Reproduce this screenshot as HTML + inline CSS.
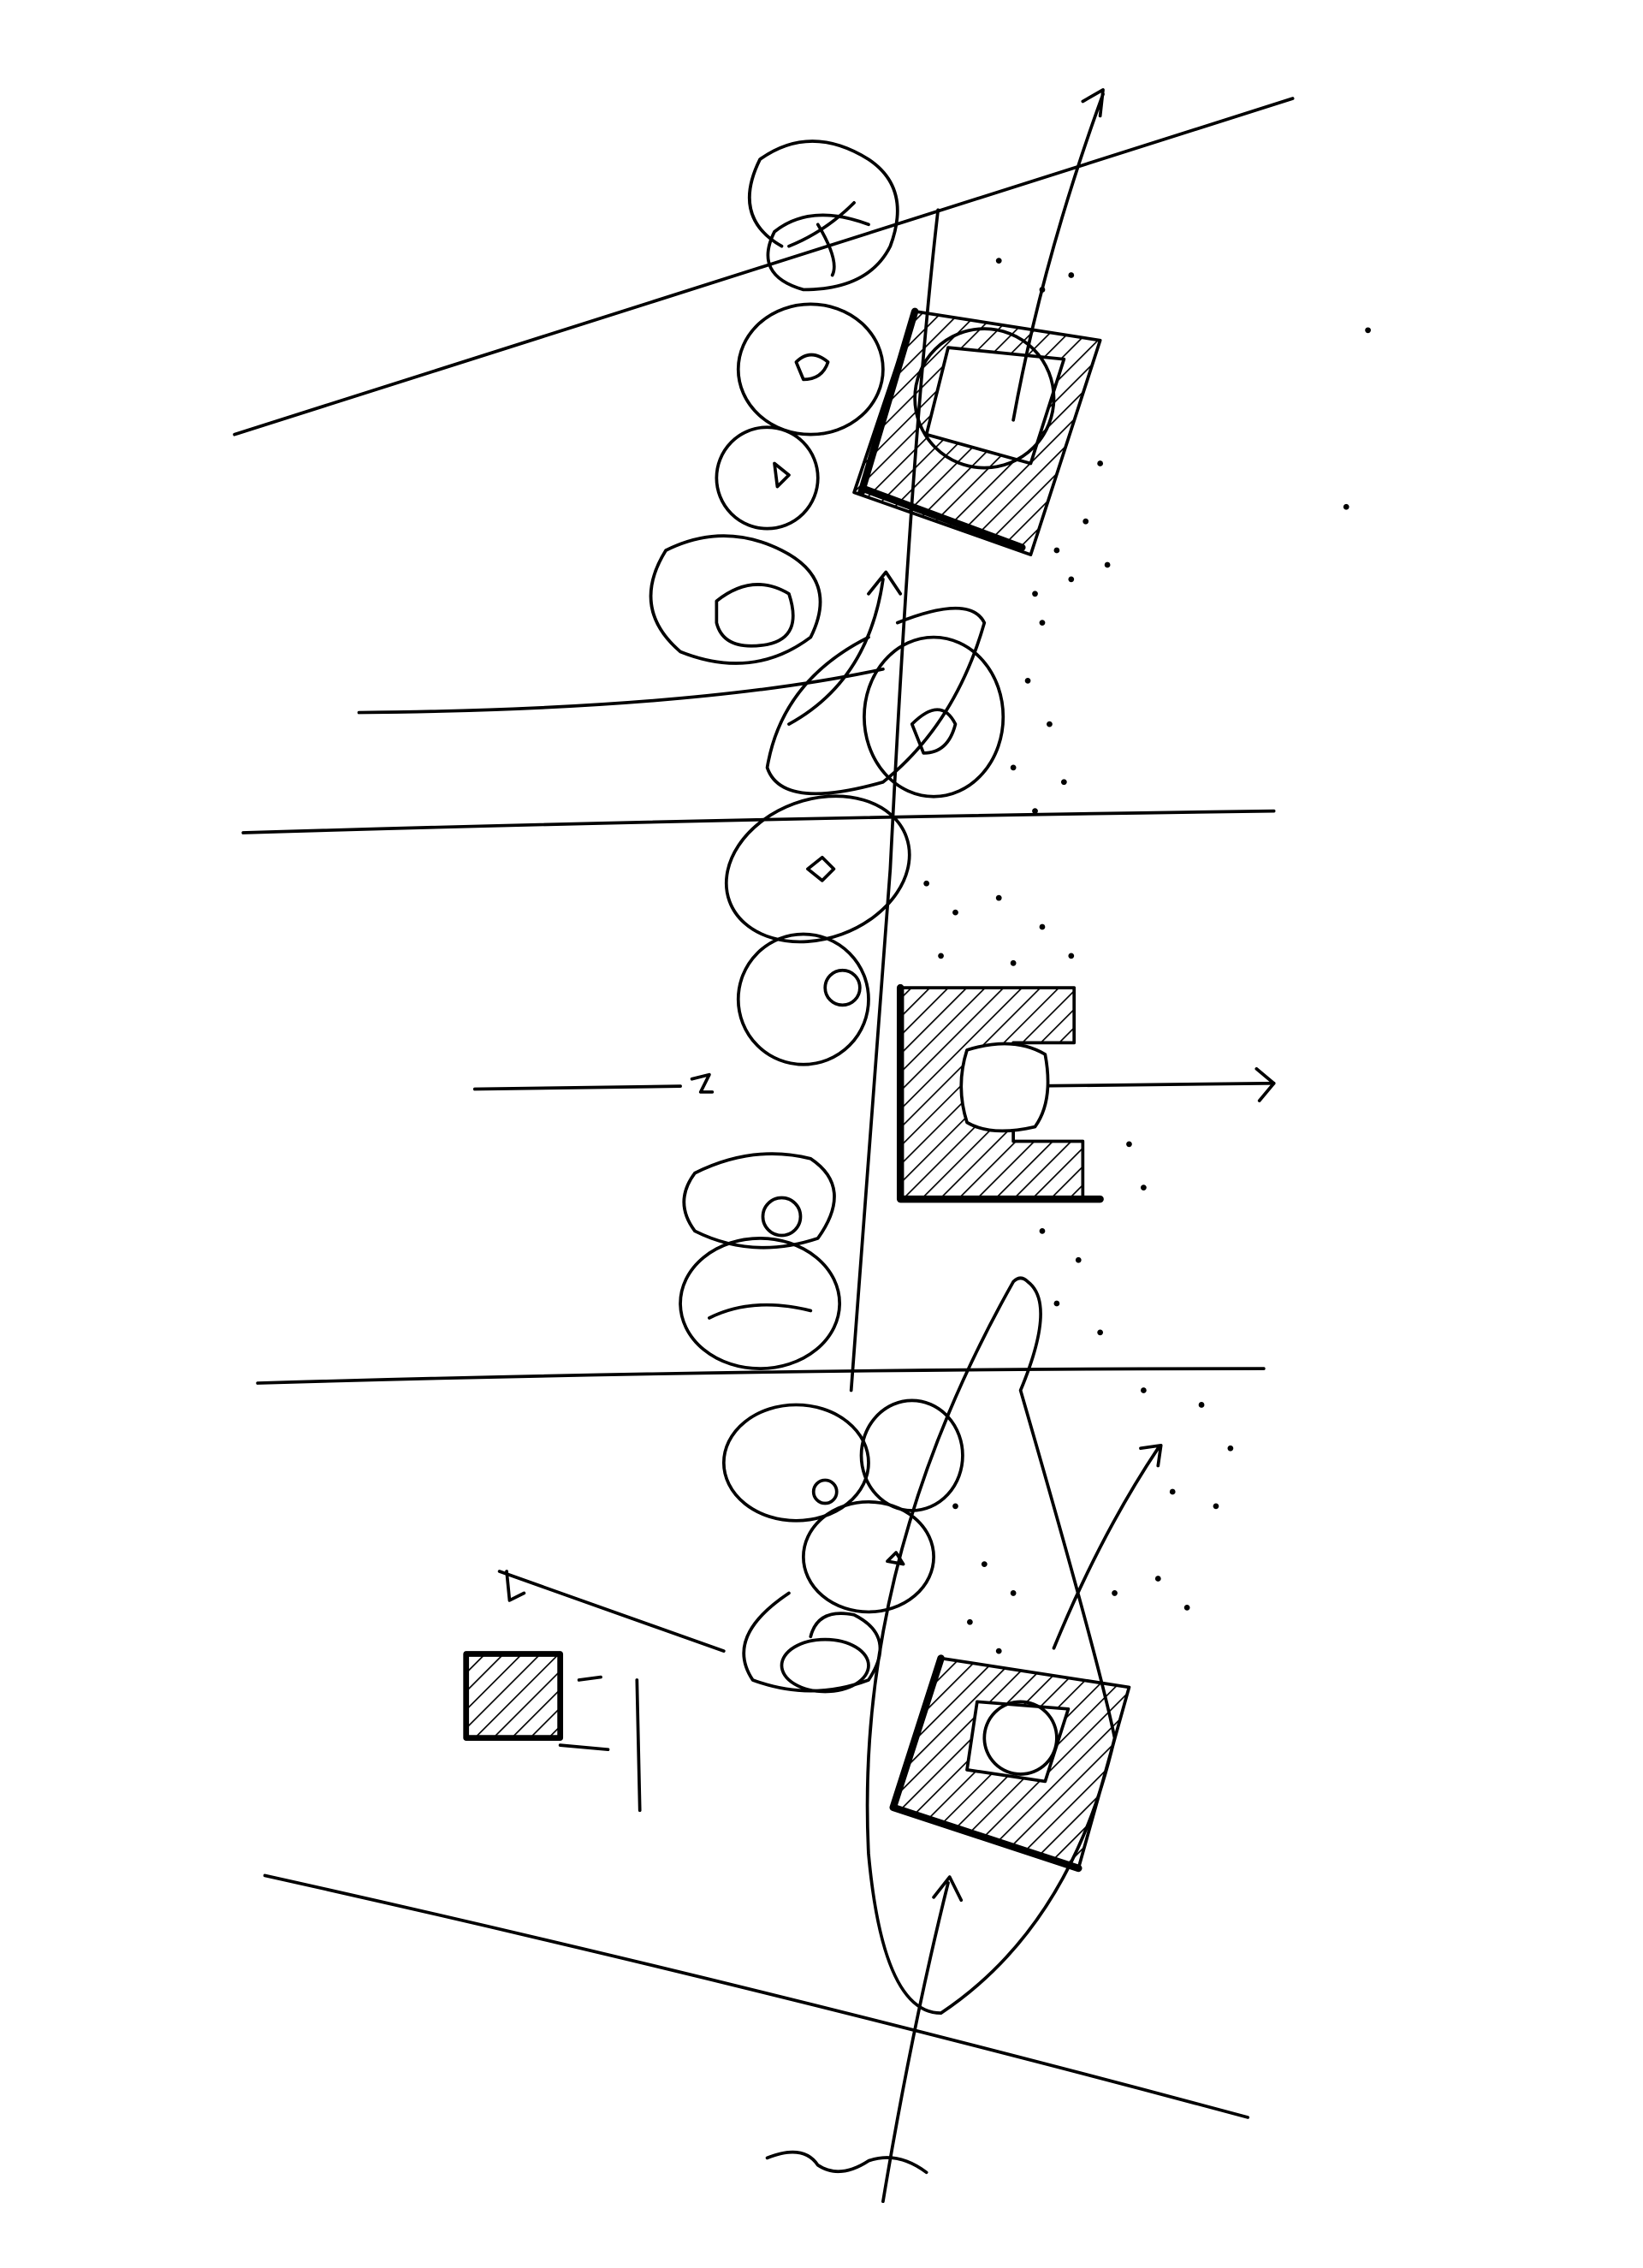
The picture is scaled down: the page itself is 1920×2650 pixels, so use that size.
<!DOCTYPE html>
<html><head><meta charset="utf-8"><style>
html,body{margin:0;padding:0;background:#fff;}
svg{display:block;}
</style></head><body>
<svg width="1920" height="2650" viewBox="0 0 1135 1566" preserveAspectRatio="none" xmlns="http://www.w3.org/2000/svg">
<defs>
<pattern id="h" width="9" height="9" patternUnits="userSpaceOnUse" patternTransform="rotate(45)">
<line x1="0" y1="0" x2="0" y2="9" stroke="#000" stroke-width="2"/>
</pattern>
</defs>
<g fill="none" stroke="#000" stroke-width="2.2" stroke-linecap="round" stroke-linejoin="round">
<!-- long lines -->
<path d="M162,300 L893,68"/>
<path d="M248,492 Q480,490 610,462"/>
<path d="M168,575 Q500,565 880,560"/>
<path d="M178,955 Q520,945 873,945"/>
<path d="M183,1295 Q520,1370 862,1462"/>
<path d="M328,752 L470,750"/>
<path d="M478,745 l12,-3 l-6,12 l8,0"/>
<path d="M700,750 L880,748"/>
<path d="M868,738 l12,10 l-10,12"/>
<!-- spine -->
<path d="M648,145 Q630,300 615,600 Q600,800 588,960"/>
<!-- top box -->
<path d="M632,215 L760,235 L712,383 L590,340 Z" fill="url(#h)"/>
<path d="M598,338 L706,378 M632,215 L595,340" stroke-width="5"/>
<path d="M655,240 L735,248 L712,320 L640,300 Z" fill="#fff"/>
<circle cx="680" cy="275" r="48"/>
<path d="M700,290 Q720,180 762,65 M748,70 L762,62 L760,80"/>
<!-- middle box -->
<path d="M622,682 L742,682 L742,720 L700,720 L700,788 L748,788 L748,828 L622,828 Z" fill="url(#h)"/>
<path d="M622,682 L622,828 L760,828" stroke-width="5"/>
<path d="M668,725 Q700,715 722,728 Q728,760 715,778 Q685,785 668,775 Q660,750 668,725 Z" fill="#fff"/>
<!-- bottom box -->
<path d="M650,1145 L780,1165 L745,1290 L617,1248 Z" fill="url(#h)"/>
<path d="M617,1248 L745,1290 M650,1145 L617,1248" stroke-width="5"/>
<path d="M675,1175 L738,1180 L722,1230 L668,1222 Z" fill="#fff"/>
<circle cx="705" cy="1200" r="25"/>
<!-- teardrop around bottom box -->
<path d="M710,885 Q730,900 705,960 Q760,1150 770,1200 Q740,1330 650,1390 Q610,1390 600,1280 Q590,1080 700,885 Q705,880 710,885"/>
<path d="M610,1520 Q630,1400 655,1300 M645,1310 L656,1296 L664,1312"/>
<path d="M530,1490 Q555,1480 565,1495 Q580,1505 600,1492 Q620,1485 640,1500"/>
<!-- small hatched square -->
<rect x="322" y="1142" width="65" height="58" fill="url(#h)" stroke-width="4"/>
<path d="M387,1205 L420,1208 M440,1160 L442,1250 M400,1160 L415,1158"/>
<path d="M345,1085 L500,1140 M350,1085 l2,20 l10,-5"/>
<!-- arrow lower right -->
<path d="M728,1138 Q760,1060 800,1000 M788,1000 L802,998 L800,1012"/>
<!-- small arrow mid-left -->
<path d="M545,500 Q600,470 610,400 M600,410 L612,395 L622,410"/>
<!-- loops -->
<path d="M600,155 Q560,140 535,160 Q520,190 555,200 Q600,200 615,170 Q630,130 600,110 Q560,85 525,110 Q505,150 540,170"/>
<path d="M545,170 Q570,160 590,140 M565,155 Q580,180 575,190"/>
<ellipse cx="560" cy="255" rx="50" ry="45"/>
<path d="M550,250 Q560,240 572,250 Q568,262 555,262 Z"/>
<ellipse cx="530" cy="330" rx="35" ry="35"/>
<path d="M535,320 l10,8 l-8,8 z"/>
<path d="M460,380 Q500,360 540,380 Q580,400 560,440 Q520,470 470,450 Q435,420 460,380"/>
<path d="M495,415 Q520,395 545,410 Q555,440 530,445 Q500,450 495,430 Z"/>
<ellipse cx="645" cy="495" rx="48" ry="55"/>
<path d="M630,500 Q650,480 660,500 Q655,520 638,520 Z"/>
<path d="M600,440 Q540,470 530,530 Q540,560 610,540 Q660,500 680,430 Q670,410 620,430"/>
<ellipse cx="565" cy="600" rx="65" ry="48" transform="rotate(-20 565 600)"/>
<path d="M558,600 l10,-8 l8,8 l-8,8 z"/>
<ellipse cx="555" cy="690" rx="45" ry="45"/>
<circle cx="582" cy="682" r="12"/>
<path d="M480,810 Q520,790 560,800 Q590,820 565,855 Q520,870 480,850 Q465,830 480,810"/>
<circle cx="540" cy="840" r="13"/>
<ellipse cx="525" cy="900" rx="55" ry="45"/>
<path d="M490,910 Q520,895 560,905"/>
<ellipse cx="550" cy="1010" rx="50" ry="40"/>
<ellipse cx="630" cy="1005" rx="35" ry="38"/>
<circle cx="570" cy="1030" r="8"/>
<ellipse cx="600" cy="1075" rx="45" ry="38"/>
<path d="M613,1078 l6,-6 l5,8 z"/>
<path d="M545,1100 Q500,1130 520,1160 Q560,1175 600,1160 Q620,1130 590,1115 Q565,1110 560,1130"/>
<ellipse cx="570" cy="1150" rx="30" ry="18"/>
</g>
<!-- stipple -->
<g fill="#000">
<circle cx="690" cy="180" r="2"/><circle cx="720" cy="200" r="2"/><circle cx="740" cy="190" r="2"/>
<circle cx="760" cy="320" r="2"/><circle cx="750" cy="360" r="2"/><circle cx="730" cy="380" r="2"/><circle cx="740" cy="400" r="2"/><circle cx="715" cy="410" r="2"/><circle cx="765" cy="390" r="2"/><circle cx="720" cy="430" r="2"/>
<circle cx="710" cy="470" r="2"/><circle cx="725" cy="500" r="2"/><circle cx="700" cy="530" r="2"/><circle cx="735" cy="540" r="2"/><circle cx="715" cy="560" r="2"/>
<circle cx="640" cy="610" r="2"/><circle cx="660" cy="630" r="2"/><circle cx="690" cy="620" r="2"/><circle cx="720" cy="640" r="2"/><circle cx="740" cy="660" r="2"/><circle cx="650" cy="660" r="2"/><circle cx="700" cy="665" r="2"/>
<circle cx="780" cy="790" r="2"/><circle cx="790" cy="820" r="2"/><circle cx="720" cy="850" r="2"/><circle cx="745" cy="870" r="2"/><circle cx="730" cy="900" r="2"/><circle cx="760" cy="920" r="2"/>
<circle cx="790" cy="960" r="2"/><circle cx="830" cy="970" r="2"/><circle cx="850" cy="1000" r="2"/><circle cx="810" cy="1030" r="2"/><circle cx="840" cy="1040" r="2"/><circle cx="800" cy="1090" r="2"/><circle cx="770" cy="1100" r="2"/><circle cx="820" cy="1110" r="2"/>
<circle cx="660" cy="1040" r="2"/><circle cx="680" cy="1080" r="2"/><circle cx="700" cy="1100" r="2"/><circle cx="670" cy="1120" r="2"/><circle cx="690" cy="1140" r="2"/>
<circle cx="945" cy="228" r="2"/><circle cx="930" cy="350" r="2"/>
</g>
</svg>
</body></html>
